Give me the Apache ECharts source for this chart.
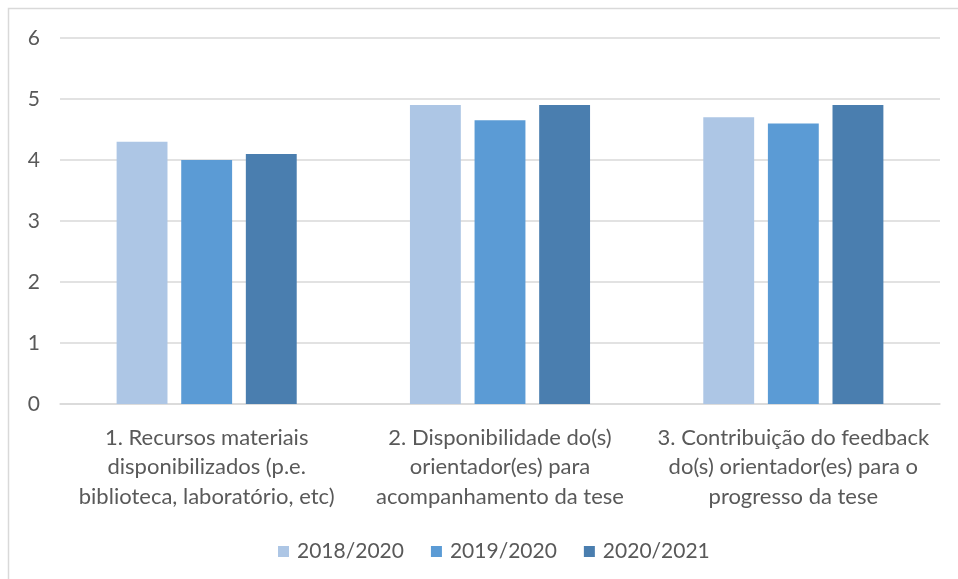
<!DOCTYPE html>
<html><head><meta charset="utf-8">
<script src="https://cdn.jsdelivr.net/npm/echarts@6/dist/echarts.min.js"></script>
<style>html,body{margin:0;padding:0;background:#fff}#c{width:958px;height:579px}</style>
</head><body><div id="c"></div>
<script>
const categories = [
  "1. Recursos materiais\ndisponibilizados (p.e.\nbiblioteca, laboratório, etc)",
  "2. Disponibilidade do(s)\norientador(es) para\nacompanhamento da tese",
  "3. Contribuição do feedback\ndo(s) orientador(es) para o\nprogresso da tese"
];
const seriesNames = ["2018/2020", "2019/2020", "2020/2021"];
const s2018 = [4.3, 4.9, 4.7];
const s2019 = [4.0, 4.65, 4.6];
const s2020 = [4.1, 4.9, 4.9];
const yTicks = [0, 1, 2, 3, 4, 5, 6];
const colors = ["#adc6e5", "#5b9bd5", "#4a7eaf"];
const FONT = "Lato, 'Open Sans', sans-serif";

const chart = echarts.init(document.getElementById('c'));
const data = [s2018, s2019, s2020];
chart.setOption({
  animation: false,
  textStyle: { fontFamily: FONT },
  graphic: [{
    type: 'rect', shape: { x: 8.5, y: 8.5, width: 960, height: 600 },
    style: { fill: 'none', stroke: '#d9d9d9', lineWidth: 1.5 }, silent: true
  }],
  grid: { left: 60, right: 18, top: 38, bottom: 175 },
  legend: {
    top: 536, left: 273, itemWidth: 11, itemHeight: 11, itemGap: 27,
    icon: 'rect',
    textStyle: { color: '#595959', fontSize: 21, fontFamily: FONT, padding: [0, 0, 0, 3] },
    data: seriesNames
  },
  xAxis: {
    type: 'category', data: categories,
    axisLine: { lineStyle: { color: '#d9d9d9', width: 1.5 } },
    axisTick: { show: false },
    axisLabel: { color: '#595959', fontSize: 22, lineHeight: 29.5, margin: 19, interval: 0, fontFamily: FONT }
  },
  yAxis: {
    type: 'value', min: yTicks[0], max: yTicks[yTicks.length - 1], interval: 1,
    axisLine: { show: false }, axisTick: { show: false },
    splitLine: { lineStyle: { color: '#d9d9d9', width: 1.5 } },
    axisLabel: { color: '#595959', fontSize: 21, margin: 20, fontFamily: FONT }
  },
  series: seriesNames.map((n, i) => ({
    name: n, type: 'bar', data: data[i],
    barGap: '27%', barCategoryGap: '38.6%',
    itemStyle: { color: colors[i] }
  }))
});
</script></body></html>
